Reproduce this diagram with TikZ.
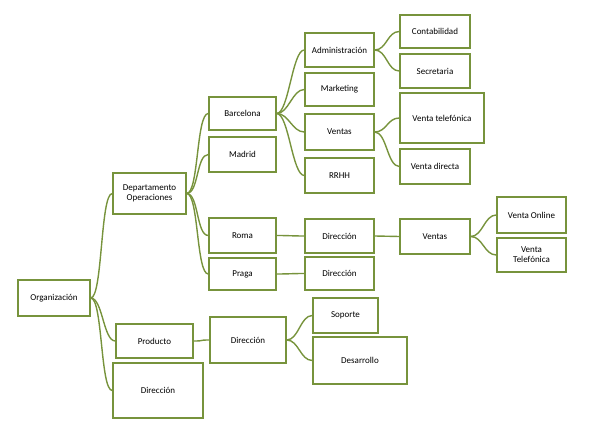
\documentclass[tikz,border=0pt]{standalone}
\usepackage{fontspec}
\setmainfont{Carlito}
\begin{document}
\definecolor{gr}{HTML}{77933C}
\begin{tikzpicture}[x=1pt,y=-1pt,
 box/.style={draw=gr,line width=1.4pt,fill=white,align=center,font=\fontsize{9}{10}\selectfont,inner sep=1pt},
 ln/.style={draw=gr,line width=1.4pt}]
\useasboundingbox (0,0) rectangle (600,443);
\newcommand\bx[6]{\node[box,minimum width=#4-#2,minimum height=#5-#3] (#1) at ({(#2+#4)/2},{(#3+#5)/2}) {#6};}
\bx{org}{18}{280}{90}{316}{Organización}
\bx{dep}{113}{173}{186}{214}{Departamento\\Operaciones}
\bx{pro}{116}{324}{193}{358}{Producto}
\bx{dir}{113}{363}{203}{418}{Dirección}
\bx{bar}{209}{97}{276}{130}{Barcelona}
\bx{mad}{209}{137}{276}{172}{Madrid}
\bx{rom}{209}{218}{276}{253}{Roma}
\bx{pra}{209}{258}{276}{290}{Praga}
\bx{pdir}{210}{317}{286}{363}{Dirección}
\bx{adm}{305}{33}{374}{67}{Administración}
\bx{mkt}{305}{73}{374}{106}{Marketing}
\bx{ven}{305}{114}{374}{150}{Ventas}
\bx{rrhh}{305}{158}{374}{193}{RRHH}
\bx{rdir}{305}{219}{374}{253}{Dirección}
\bx{prdir}{305}{257}{374}{290}{Dirección}
\bx{sop}{313}{298}{378}{333}{Soporte}
\bx{des}{313}{337}{407}{384}{Desarrollo}
\bx{con}{400}{15}{470}{48}{Contabilidad}
\bx{sec}{400}{54}{470}{88}{Secretaria}
\bx{vt}{400}{93}{484}{143}{Venta telefónica}
\bx{vd}{400}{149}{470}{184}{Venta directa}
\bx{rven}{400}{219}{470}{254}{Ventas}
\bx{vo}{497}{197}{566}{233}{Venta Online}
\bx{vtf}{497}{238}{566}{272}{Venta\\Telefónica}
\begin{scope}[on background layer/.try]
\end{scope}
\foreach \p/\c in {org/dep,org/pro,org/dir,dep/bar,dep/mad,dep/rom,dep/pra,pro/pdir,
 bar/adm,bar/mkt,bar/ven,bar/rrhh,rom/rdir,pra/prdir,pdir/sop,pdir/des,
 adm/con,adm/sec,ven/vt,ven/vd,rdir/rven,rven/vo,rven/vtf}
 \draw[ln] (\p.east) .. controls +(12,0) and +(-12,0) .. (\c.west);
\end{tikzpicture}
\end{document}
